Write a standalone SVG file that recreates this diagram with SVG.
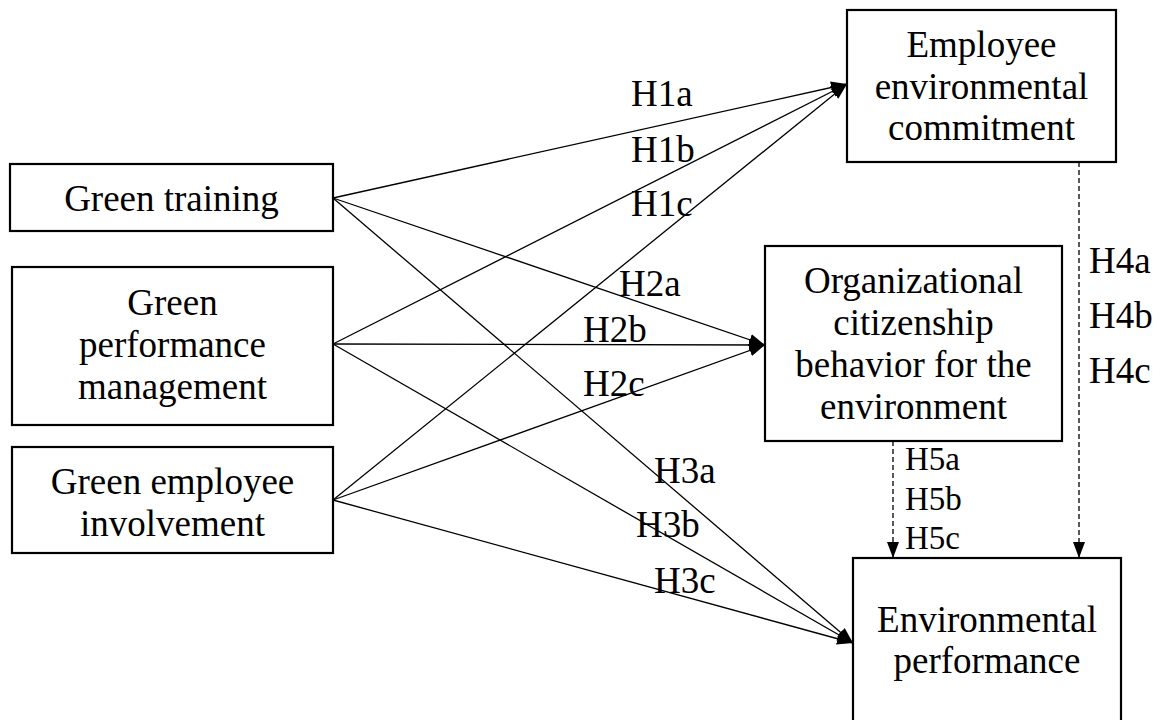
<svg xmlns="http://www.w3.org/2000/svg" width="1162" height="720" viewBox="0 0 1162 720">
  <style>
    .box { fill: #ffffff; stroke: #000000; stroke-width: 2.2; }
    .t { font-family: "Liberation Serif", "Times New Roman", serif; font-size: 37px; fill: #000000; }
    .c { text-anchor: middle; }
    .s { font-size: 33px; }
    .ln { stroke: #000000; stroke-width: 1.3; fill: none; marker-end: url(#arr); }
    .dl { stroke: #000000; stroke-width: 1.3; fill: none; stroke-dasharray: 5 3; marker-end: url(#arr); }
  </style>
  <defs>
    <marker id="arr" markerUnits="userSpaceOnUse" markerWidth="17" markerHeight="14" refX="16" refY="6" orient="auto">
      <path d="M0,0 L16,6 L0,12 z" fill="#000000"/>
    </marker>
  </defs>
  <rect width="1162" height="720" fill="#ffffff"/>

  <g id="connectors">
    <line class="ln" x1="333" y1="198" x2="847" y2="84"/>
    <line class="ln" x1="333" y1="198" x2="765" y2="345"/>
    <line class="ln" x1="333" y1="198" x2="853" y2="643"/>
    <line class="ln" x1="333" y1="344" x2="847" y2="84"/>
    <line class="ln" x1="333" y1="344" x2="765" y2="345"/>
    <line class="ln" x1="333" y1="344" x2="853" y2="643"/>
    <line class="ln" x1="333" y1="500" x2="847" y2="84"/>
    <line class="ln" x1="333" y1="500" x2="765" y2="345"/>
    <line class="ln" x1="333" y1="500" x2="853" y2="643"/>
    <line class="dl" x1="893" y1="441" x2="893" y2="558"/>
    <line class="dl" x1="1079" y1="162" x2="1079" y2="558"/>
  </g>

  <g id="labels">
    <text class="t" x="631" y="106">H1a</text>
    <text class="t" x="631" y="162">H1b</text>
    <text class="t" x="631" y="216">H1c</text>
    <text class="t" x="619" y="296">H2a</text>
    <text class="t" x="583" y="342">H2b</text>
    <text class="t" x="583" y="396">H2c</text>
    <text class="t" x="654" y="483">H3a</text>
    <text class="t" x="636" y="537">H3b</text>
    <text class="t" x="654" y="593">H3c</text>
    <text class="t" x="1089" y="273">H4a</text>
    <text class="t" x="1089" y="328">H4b</text>
    <text class="t" x="1089" y="383">H4c</text>
    <text class="t s" x="905" y="470">H5a</text>
    <text class="t s" x="905" y="510">H5b</text>
    <text class="t s" x="905" y="549">H5c</text>
  </g>

  <g id="green-training">
    <rect class="box" x="10" y="164" width="323" height="67"/>
    <text class="t c" x="171.5" y="211">Green training</text>
  </g>

  <g id="green-performance-management">
    <rect class="box" x="12" y="267" width="321" height="158"/>
    <text class="t c" x="172.5" y="315">Green</text>
    <text class="t c" x="172.5" y="357">performance</text>
    <text class="t c" x="172.5" y="399">management</text>
  </g>

  <g id="green-employee-involvement">
    <rect class="box" x="12" y="447" width="321" height="106"/>
    <text class="t c" x="172.5" y="494">Green employee</text>
    <text class="t c" x="172.5" y="536">involvement</text>
  </g>

  <g id="employee-environmental-commitment">
    <rect class="box" x="847" y="10" width="269" height="152"/>
    <text class="t c" x="981.5" y="57">Employee</text>
    <text class="t c" x="981.5" y="99">environmental</text>
    <text class="t c" x="981.5" y="140">commitment</text>
  </g>

  <g id="ocbe">
    <rect class="box" x="765" y="246" width="297" height="195"/>
    <text class="t c" x="913.5" y="293">Organizational</text>
    <text class="t c" x="913.5" y="335">citizenship</text>
    <text class="t c" x="913.5" y="377">behavior for the</text>
    <text class="t c" x="913.5" y="419">environment</text>
  </g>

  <g id="environmental-performance">
    <rect class="box" x="853" y="558" width="268" height="170"/>
    <text class="t c" x="987" y="632">Environmental</text>
    <text class="t c" x="987" y="673">performance</text>
  </g>
</svg>
